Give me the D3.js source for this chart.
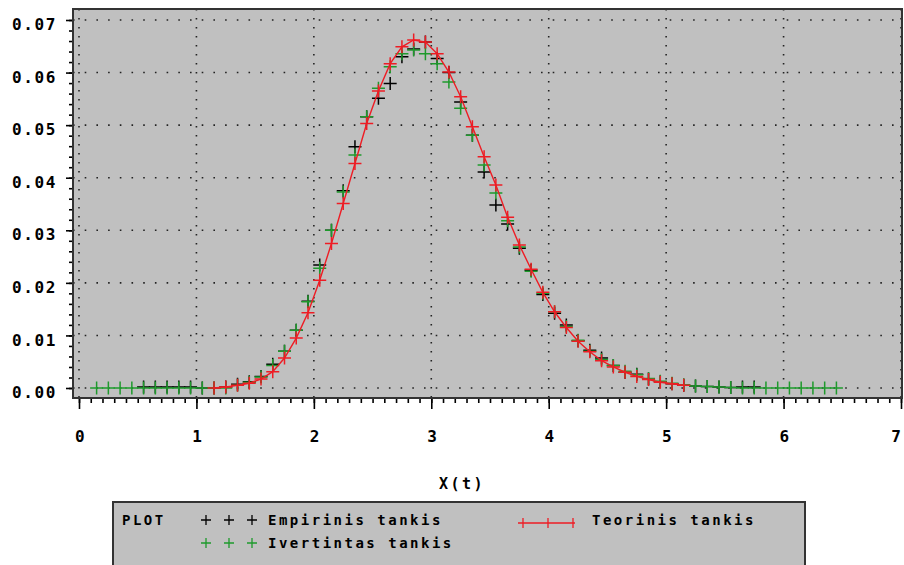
<!DOCTYPE html>
<html>
<head>
<meta charset="utf-8">
<script src="https://cdn.jsdelivr.net/npm/d3@7"></script>
<style>
  body { margin: 0; background: #fff; }
  svg { display: block; }
  .tick text { font-family: "DejaVu Sans Mono", monospace; font-weight: bold; font-size: 16px; letter-spacing: 1.6px; fill: #000; }
  .lg { font-family: "DejaVu Sans Mono", monospace; font-size: 14px; font-weight: bold; letter-spacing: 2.5px; fill: #000; }
</style>
</head>
<body>
<svg id="chart"></svg>
<script>
// data
var empX = [0.55,0.65,0.75,0.85,0.95,1.05,1.15,1.25,1.35,1.45,1.55,1.65,1.75,1.85,1.95,2.05,2.15,2.25,2.35,2.45,2.55,2.65,2.75,2.85,2.95,3.05,3.15,3.25,3.35,3.45,3.55,3.65,3.75,3.85,3.95,4.05,4.15,4.25,4.35,4.45,4.55,4.65,4.75,4.85,4.95,5.05,5.15,5.25,5.35,5.45,5.55,5.65,5.75];
var empY = [0.0002,0.0002,0.0002,0.0002,0.0002,0,0,0.0002,0.0007,0.0012,0.0022,0.0045,0.0070,0.0110,0.0165,0.0234,0.0300,0.0375,0.0459,0.0516,0.0551,0.0579,0.0630,0.0645,0.0658,0.0627,0.0600,0.0544,0.0481,0.0411,0.0348,0.0312,0.0266,0.0224,0.0178,0.0142,0.0120,0.0090,0.0072,0.0057,0.0043,0.0030,0.0026,0.0017,0.0012,0.0008,0.0005,0.0004,0.0003,0.0002,0.0001,0.0002,0.0002];

var ivX = [0.15,0.25,0.35,0.45,0.55,0.65,0.75,0.85,0.95,1.05,1.15,1.25,1.35,1.45,1.55,1.65,1.75,1.85,1.95,2.05,2.15,2.25,2.35,2.45,2.55,2.65,2.75,2.85,2.95,3.05,3.15,3.25,3.35,3.45,3.55,3.65,3.75,3.85,3.95,4.05,4.15,4.25,4.35,4.45,4.55,4.65,4.75,4.85,4.95,5.05,5.15,5.25,5.35,5.45,5.55,5.65,5.75,5.85,5.95,6.05,6.15,6.25,6.35,6.45];
var ivY = [0,0,0,0,0,0,0,0,0,0,0,0,0.0005,0.0011,0.0021,0.0043,0.0070,0.0110,0.0164,0.0228,0.0300,0.0373,0.0443,0.0516,0.0570,0.0611,0.0636,0.0643,0.0636,0.0617,0.0582,0.0532,0.0481,0.0424,0.0371,0.0318,0.0268,0.0222,0.0180,0.0145,0.0117,0.0091,0.0070,0.0054,0.0043,0.0032,0.0025,0.0018,0.0013,0.0009,0.0006,0.0004,0.0003,0.0002,0.0001,0,0,0,0,0,0,0,0,0];

var teoX = [1.15,1.25,1.35,1.45,1.55,1.65,1.75,1.85,1.95,2.05,2.15,2.25,2.35,2.45,2.55,2.65,2.75,2.85,2.95,3.05,3.15,3.25,3.35,3.45,3.55,3.65,3.75,3.85,3.95,4.05,4.15,4.25,4.35,4.45,4.55,4.65,4.75,4.85,4.95,5.05,5.15];
var teoY = [0,0.0002,0.0005,0.0009,0.0017,0.0031,0.0057,0.0095,0.0143,0.0205,0.0275,0.0351,0.0427,0.0503,0.0565,0.0617,0.0649,0.0662,0.0658,0.0636,0.0601,0.0554,0.0497,0.0440,0.0386,0.0325,0.0272,0.0226,0.0182,0.0145,0.0115,0.0089,0.0069,0.0052,0.0040,0.0030,0.0022,0.0016,0.0011,0.0008,0.0005];

var xTicks = [0,1,2,3,4,5,6,7];
var yTicks = [0,0.01,0.02,0.03,0.04,0.05,0.06,0.07];

var width = 904, height = 565;
var svg = d3.select("#chart").attr("width", width).attr("height", height);

var frame = {left: 73, top: 9, right: 902, bottom: 398};
var x = d3.scaleLinear().domain([0, 7]).range([79, 901]);
var y = d3.scaleLinear().domain([0, 0.07]).range([388, 20]);

// plot background
svg.append("rect")
    .attr("x", frame.left).attr("y", frame.top)
    .attr("width", frame.right - frame.left).attr("height", frame.bottom - frame.top)
    .attr("fill", "#c0c0c0");

// dotted grid
svg.append("g").selectAll("line")
    .data(yTicks).enter().append("line")
    .attr("x1", frame.left).attr("x2", frame.right)
    .attr("y1", function(d){ return y(d); }).attr("y2", function(d){ return y(d); })
    .attr("stroke", "#222").attr("stroke-width", 1.6)
    .attr("stroke-dasharray", "1.6,10.1");
svg.append("g").selectAll("line")
    .data(xTicks).enter().append("line")
    .attr("y1", frame.top).attr("y2", frame.bottom)
    .attr("x1", function(d){ return x(d); }).attr("x2", function(d){ return x(d); })
    .attr("stroke", "#222").attr("stroke-width", 1.6)
    .attr("stroke-dasharray", "1.6,7.4");

// axes
var yMinor = svg.append("g").attr("transform", "translate(" + frame.left + ",0)")
    .call(d3.axisLeft(y).tickValues(d3.range(0, 36).map(function(i){ return i * 0.002; })).tickSize(4).tickFormat(""));
var yMajor = svg.append("g").attr("transform", "translate(" + frame.left + ",0)")
    .call(d3.axisLeft(y).tickValues(yTicks).tickSize(7).tickPadding(9).tickFormat(d3.format(".2f")));
yMajor.selectAll("text").attr("dy", "0.6em");

var xMinor = svg.append("g").attr("transform", "translate(0," + frame.bottom + ")")
    .call(d3.axisBottom(x).tickValues(d3.range(0, 71).map(function(i){ return i / 10; })).tickSize(5).tickFormat(""));
var xMajor = svg.append("g").attr("transform", "translate(0," + frame.bottom + ")")
    .call(d3.axisBottom(x).tickValues(xTicks).tickSize(11).tickFormat(d3.format("d")));
xMajor.selectAll("text").attr("dy", null).attr("y", 44).attr("dx", "1px");
// last label sits against the right edge
xMajor.selectAll("text").filter(function(d){ return d === 7; })
    .attr("text-anchor", "end").attr("dx", "1px");

[yMinor, yMajor, xMinor, xMajor].forEach(function(g){
    g.select(".domain").remove();
    g.selectAll(".tick line").attr("stroke", "#000").attr("stroke-width", 1.6);
});

// frame
svg.append("rect")
    .attr("x", frame.left).attr("y", frame.top)
    .attr("width", frame.right - frame.left).attr("height", frame.bottom - frame.top)
    .attr("fill", "none").attr("stroke", "#333").attr("stroke-width", 2);

svg.append("text").attr("class", "lg")
    .attr("x", 462).attr("y", 489).attr("text-anchor", "middle")
    .style("font-size", "15px")
    .text("X(t)");

// marks
var cross = "M-6.5,0H6.5M0,-6.5V6.5";
function plus(data, xs, color, sw) {
    svg.append("g").selectAll("path")
        .data(data).enter().append("path")
        .attr("d", cross)
        .attr("transform", function(d, i){ return "translate(" + x(xs[i]) + "," + y(d) + ")"; })
        .attr("fill", "none").attr("stroke", color).attr("stroke-width", sw);
}

plus(empY, empX, "#000", 1.5);
plus(ivY, ivX, "#1e9a2c", 1.5);

var line = d3.line()
    .x(function(d, i){ return x(teoX[i]); })
    .y(function(d){ return y(d); });
svg.append("path").datum(teoY)
    .attr("d", line)
    .attr("fill", "none").attr("stroke", "#ee1c24").attr("stroke-width", 1.4);
plus(teoY, teoX, "#ee1c24", 1.5);

// legend
var lg = svg.append("g");
lg.append("rect")
    .attr("x", 113).attr("y", 502).attr("width", 692).attr("height", 80)
    .attr("fill", "#c0c0c0").attr("stroke", "#333").attr("stroke-width", 2);
lg.append("text").attr("class", "lg").attr("x", 122).attr("y", 525).text("PLOT");

[206, 229, 252].forEach(function(px){
    lg.append("path").attr("d", "M-5,0H5M0,-5V5")
        .attr("transform", "translate(" + px + ",520)")
        .attr("stroke", "#000").attr("stroke-width", 1.3);
    lg.append("path").attr("d", "M-5,0H5M0,-5V5")
        .attr("transform", "translate(" + px + ",543)")
        .attr("stroke", "#1e9a2c").attr("stroke-width", 1.3);
});
lg.append("text").attr("class", "lg").attr("x", 268).attr("y", 525).text("Empirinis tankis");
lg.append("text").attr("class", "lg").attr("x", 268).attr("y", 548).text("Ivertintas tankis");

lg.append("line").attr("x1", 518).attr("x2", 575).attr("y1", 523).attr("y2", 523)
    .attr("stroke", "#ee1c24").attr("stroke-width", 1.3);
[523, 548, 573].forEach(function(px){
    lg.append("line").attr("x1", px).attr("x2", px).attr("y1", 518).attr("y2", 528)
        .attr("stroke", "#ee1c24").attr("stroke-width", 1.3);
});
lg.append("text").attr("class", "lg").attr("x", 592).attr("y", 525).text("Teorinis tankis");
</script>
</body>
</html>
